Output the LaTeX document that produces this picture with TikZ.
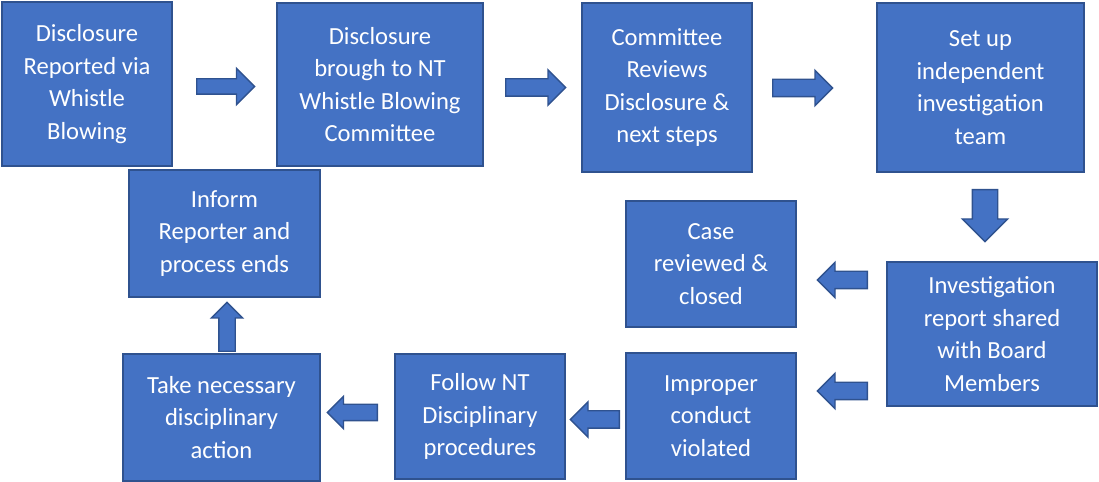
\documentclass[tikz,border=0pt]{standalone}
\usepackage{fontspec}
\setmainfont{Carlito}
\usetikzlibrary{shapes.arrows}
\definecolor{boxblue}{HTML}{4472C4}
\definecolor{boxedge}{HTML}{2F528F}
\newdimen\pxu \pxu=0.02cm

\begin{document}
\begin{tikzpicture}[x=0.02cm, y=-0.02cm,
stage/.style={rectangle, fill=boxblue, draw=boxedge, line width=1pt, text=white, align=center, inner sep=0pt, font=\fontsize{14}{18.5}\selectfont},
blockarrow/.style={single arrow, fill=boxblue, draw=boxedge, line width=0.8pt, inner sep=8\pxu, single arrow head extend=9\pxu, anchor=tail},
]
\useasboundingbox (0,0) rectangle (1099,482);

% top row
\node[stage, minimum width=170\pxu, minimum height=164\pxu] (disclosure) at (87,84) {Disclosure\\Reported via\\Whistle\\Blowing};
\node[stage, minimum width=206\pxu, minimum height=163\pxu] (committee) at (380,84.5) {Disclosure\\brough to NT\\Whistle Blowing\\Committee};
\node[stage, minimum width=170\pxu, minimum height=169\pxu] (review) at (667,87.5) {Committee\\Reviews\\Disclosure \&\\next steps};
\node[stage, minimum width=207\pxu, minimum height=169\pxu] (team) at (980.5,87.5) {Set up\\independent\\investigation\\team};

\node[blockarrow, minimum height=58\pxu, inner sep=7\pxu, single arrow head extend=10.5\pxu] (to_committee) at (196,86.5) {};
\node[blockarrow, minimum height=60\pxu] (to_review) at (505,87.5) {};
\node[blockarrow, minimum height=60\pxu] (to_team) at (772,88) {};

% right side
\node[blockarrow, shape border rotate=270, minimum height=52\pxu, inner sep=12\pxu, single arrow head extend=10\pxu] (to_shared) at (985,189) {};
\node[stage, minimum width=210\pxu, minimum height=144\pxu] (shared) at (992,334) {Investigation\\report shared\\with Board\\Members};
\node[stage, minimum width=170\pxu, minimum height=126\pxu] (closed) at (711,264) {Case\\reviewed \&\\closed};
\node[blockarrow, shape border rotate=180, minimum height=50\pxu] (to_closed) at (868,280) {};
\node[blockarrow, shape border rotate=180, minimum height=50\pxu] (to_improper) at (868,391) {};

% bottom row
\node[stage, minimum width=170\pxu, minimum height=126\pxu] (improper) at (711,416) {Improper\\conduct\\violated};
\node[stage, minimum width=170\pxu, minimum height=125\pxu] (procedures) at (480,416.5) {Follow NT\\Disciplinary\\procedures};
\node[stage, minimum width=197\pxu, minimum height=127\pxu] (action) at (221.5,417.5) {Take necessary\\disciplinary\\action};
\node[blockarrow, shape border rotate=180, minimum height=49\pxu] (to_procedures) at (620,419.5) {};
\node[blockarrow, shape border rotate=180, minimum height=50\pxu, inner sep=7.5\pxu, single arrow head extend=8\pxu] (to_action) at (378,412.5) {};

% back to the reporter
\node[blockarrow, shape border rotate=90, minimum height=49\pxu, inner sep=7.5\pxu, single arrow head extend=7.5\pxu] (to_inform) at (227,352) {};
\node[stage, minimum width=191\pxu, minimum height=127\pxu] (inform) at (224.5,233.5) {Inform\\Reporter and\\process ends};

\end{tikzpicture}
\end{document}
